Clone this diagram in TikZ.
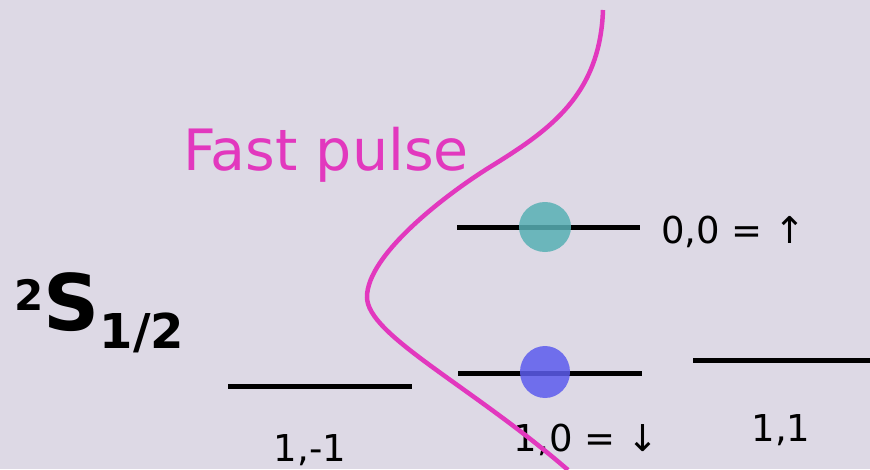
\documentclass[tikz,border=0pt]{standalone}
\usepackage{fontspec}
\setmainfont{DejaVu Sans}
\usetikzlibrary{positioning}

\definecolor{bgcol}{RGB}{221,217,229}
\definecolor{pulsecol}{RGB}{226,56,190}
\definecolor{tealdot}{RGB}{88,176,180}
\definecolor{bluedot}{RGB}{92,92,238}

\tikzset{
  level/.style={line width=5pt, black},
  lbl/.style={inner sep=0pt, font=\fontsize{37}{37}\selectfont},
  atom/.style={opacity=0.85}
}

\begin{document}
\begin{tikzpicture}[x=1pt, y=-1pt]
  \fill[bgcol] (0,0) rectangle (870,469);
  \useasboundingbox (0,0) rectangle (870,469);

  % hyperfine levels
  \coordinate (lvlm1a) at (228,386);  \coordinate (lvlm1b) at (412,386);
  \coordinate (lvl10a) at (458,373);  \coordinate (lvl10b) at (642,373);
  \coordinate (lvl00a) at (457,227);  \coordinate (lvl00b) at (640,227);
  \coordinate (lvl11a) at (693,360);  \coordinate (lvl11b) at (875,360);
  \draw[level] (lvlm1a) -- (lvlm1b);
  \draw[level] (lvl10a) -- (lvl10b);
  \draw[level] (lvl00a) -- (lvl00b);
  \draw[level] (lvl11a) -- (lvl11b);

  % qubit populations
  \fill[tealdot, atom] (545,227) ellipse (26 and 25);
  \fill[bluedot, atom] (545,372) ellipse (25 and 26);

  % labels
  \node[lbl, anchor=west] (up) at (661,232) {0,0 = ↑};
  \node[lbl] (m1) at (310,450) {1,-1};
  \node[lbl] (down) at (586,440) {1,0 = ↓};
  \node[lbl] (p1) at (781,430) {1,1};
  \node[anchor=base west, inner sep=0pt] (term) at (14,330)
    {\bfseries\fontsize{42}{42}\selectfont\raisebox{20pt}{2}%
     \fontsize{78}{78}\selectfont S%
     \fontsize{48}{48}\selectfont\raisebox{-18pt}{1/2}};

  % pulse
  \node[anchor=base west, inner sep=0pt, text=pulsecol,
    font=\fontsize{57}{57}\selectfont] (pulse) at (183,170) {Fast pulse};
  \coordinate (ptop) at (603,10);
  \coordinate (pmid) at (490,167);
  \coordinate (pleft) at (367,297);
  \coordinate (pbot) at (568,470);
  \draw[pulsecol, line width=4.5pt]
    (ptop) .. controls (600,95) and (550,130) .. (pmid)
           .. controls (445,195) and (367,255) .. (pleft)
           .. controls (367,335) and (470,385) .. (pbot);
\end{tikzpicture}
\end{document}
